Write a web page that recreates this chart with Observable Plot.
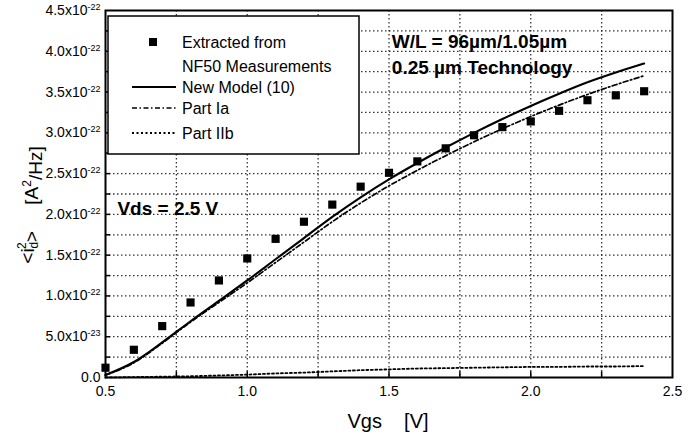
<!DOCTYPE html>
<html><head><meta charset="utf-8">
<script src="https://cdn.jsdelivr.net/npm/d3@7"></script>
<script src="https://cdn.jsdelivr.net/npm/@observablehq/plot@0.6"></script>
<style>body{margin:0;background:#fff} #chart svg{display:block}</style>
</head><body><div id="chart"></div>
<script>
// Vgs [V]
const vgs = [0.5,0.6,0.7,0.8,0.9,1.0,1.1,1.2,1.3,1.4,1.5,1.6,1.7,1.8,1.9,2.0,2.1,2.2,2.3,2.4];
// values in units of 1e-22 A^2/Hz
const extracted = [0.12,0.34,0.63,0.92,1.19,1.46,1.70,1.91,2.12,2.34,2.51,2.65,2.81,2.97,3.07,3.14,3.27,3.40,3.46,3.51];
const newModel  = [0.03,0.19,0.43,0.69,0.94,1.19,1.45,1.71,1.97,2.21,2.43,2.63,2.82,3.00,3.17,3.33,3.48,3.62,3.74,3.85];
const partIa    = [0.03,0.18,0.42,0.68,0.92,1.16,1.41,1.66,1.91,2.14,2.35,2.54,2.72,2.89,3.05,3.20,3.34,3.47,3.59,3.70];
const partIIb   = [0.0,0.005,0.01,0.015,0.025,0.035,0.05,0.06,0.075,0.09,0.10,0.11,0.115,0.12,0.125,0.13,0.13,0.135,0.135,0.14];

const xTicks = [0.5,1.0,1.5,2.0,2.5];
const xTickLabels = ["0.5","1.0","1.5","2.0","2.5"];
const yTicks = [0,0.5,1.0,1.5,2.0,2.5,3.0,3.5,4.0,4.5];
const yTickLabels = ["0.0","5.0x10^-23","1.0x10^-22","1.5x10^-22","2.0x10^-22","2.5x10^-22","3.0x10^-22","3.5x10^-22","4.0x10^-22","4.5x10^-22"];
const gridX = [0.75,1.0,1.25,1.5,1.75,2.0,2.25];
const gridY = [0.25,0.5,0.75,1.0,1.25,1.5,1.75,2.0,2.25,2.5,2.75,3.0,3.25,3.5,3.75,4.0,4.25];

const noteText = ["W/L = 96\u00b5m/1.05\u00b5m","0.25 \u00b5m Technology","Vds = 2.5 V"];
const noteX = [1.51,1.51,0.542];
const noteY = [4.11,3.79,2.07];

const legendLabels = [["Extracted from","NF50 Measurements"],["New Model (10)"],["Part Ia"],["Part IIb"]];

const FONT = '"Liberation Sans", Arial, Helvetica, sans-serif';
const DASH_IA = "5,2.5,1.5,2.5";
const DASH_IIB = "2,2.5";

const rows = vgs.map((v,i)=>({vgs:v, extracted:extracted[i], newModel:newModel[i], partIa:partIa[i], partIIb:partIIb[i]}));
const notes = noteText.map((t,i)=>({text:t, x:noteX[i], y:noteY[i]}));

const chart = Plot.plot({
  width:697, height:438,
  marginLeft:105, marginRight:25, marginTop:10, marginBottom:61,
  style:{fontFamily:FONT, fontSize:"14px", color:"#000", background:"#fff", overflow:"visible"},
  x:{domain:[0.5,2.5]},
  y:{domain:[0,4.5]},
  marks:[
    Plot.ruleX(gridX, {x:d=>d, stroke:"#000", strokeWidth:1.3, strokeDasharray:"1.5,2.5", strokeOpacity:0.8}),
    Plot.ruleY(gridY, {y:d=>d, stroke:"#000", strokeWidth:1.3, strokeDasharray:"1.5,2.5", strokeOpacity:0.8}),
    // inward ticks
    Plot.ruleY(gridY, {y:d=>d, x1:0.5, x2:0.518, stroke:"#000", strokeWidth:1.5}),
    Plot.ruleX(gridX, {x:d=>d, y1:0, y2:0.07, stroke:"#000", strokeWidth:1.5}),
    Plot.line(rows, {x:"vgs", y:"partIIb", stroke:"#000", strokeWidth:1.8, strokeDasharray:DASH_IIB}),
    Plot.line(rows, {x:"vgs", y:"partIa", stroke:"#000", strokeWidth:1.7, strokeDasharray:DASH_IA, curve:"monotone-x"}),
    Plot.line(rows, {x:"vgs", y:"newModel", stroke:"#000", strokeWidth:2.1, curve:"monotone-x"}),
    Plot.dot(rows, {x:"vgs", y:"extracted", symbol:"square", r:4.6, fill:"#000", stroke:null}),
    Plot.text(notes, {x:"x", y:"y", text:"text", textAnchor:"start", fontWeight:"bold", fontSize:19, fill:"#000"}),
    Plot.axisX({ticks:xTicks, tickSize:0, tickPadding:9, tickFormat:d=>xTickLabels[xTicks.indexOf(d)], label:null, fontSize:14}),
    Plot.axisY({ticks:yTicks, tickSize:0, tickPadding:5, tickFormat:d=>yTickLabels[yTicks.indexOf(d)], label:null, fontSize:14}),
    Plot.frame({stroke:"#000", strokeWidth:2})
  ]
});
document.getElementById("chart").appendChild(chart);

const svg = d3.select(chart);
// superscripts in tick labels
svg.selectAll("text").each(function(){
  const s = this.textContent;
  if (s.includes("^")) {
    const [base, exp] = s.split("^");
    const t = d3.select(this);
    t.text(null);
    t.append("tspan").text(base);
    t.append("tspan").attr("dy","-0.55em").attr("font-size","9px").text(exp);
  }
});

// legend
const lg = svg.append("g").attr("font-family", FONT).attr("font-size", 16).attr("fill", "#000").attr("text-anchor","start");
lg.append("rect").attr("x",108).attr("y",16).attr("width",251).attr("height",138)
  .attr("fill","#fff").attr("stroke","#000").attr("stroke-width",1.5);
lg.append("rect").attr("x",149).attr("y",38).attr("width",8).attr("height",8).attr("fill","#000");
const rowsY = [42,66,87,108,133];
lg.append("text").attr("x",182).attr("y",rowsY[0]).attr("dy","0.35em").text(legendLabels[0][0]);
lg.append("text").attr("x",182).attr("y",rowsY[1]).attr("dy","0.35em").text(legendLabels[0][1]);
const styles = [{w:2.1,d:null},{w:1.7,d:DASH_IA},{w:1.8,d:DASH_IIB}];
for (let k=0;k<3;k++){
  const y = rowsY[k+2];
  const ln = lg.append("line").attr("x1",132).attr("x2",176).attr("y1",y).attr("y2",y)
    .attr("stroke","#000").attr("stroke-width",styles[k].w);
  if (styles[k].d) ln.attr("stroke-dasharray", styles[k].d);
  lg.append("text").attr("x",182).attr("y",y).attr("dy","0.35em").text(legendLabels[k+1][0]);
}

// axis titles
const xt = svg.append("text").attr("x",388).attr("y",421).attr("dy","0.35em")
  .attr("text-anchor","middle").attr("font-family",FONT).attr("font-size",20).attr("fill","#000")
  .attr("xml:space","preserve");
xt.text("Vgs    [V]");

const yt = svg.append("text").attr("transform","translate(27,205) rotate(-90)")
  .attr("text-anchor","middle").attr("dy","0.35em").attr("font-family",FONT).attr("font-size",19).attr("fill","#000")
  .attr("xml:space","preserve");
yt.append("tspan").text("<i");
yt.append("tspan").attr("font-size",12).attr("dy","0.35em").text("d");
yt.append("tspan").attr("font-size",12).attr("dx","-0.6em").attr("dy","-1.0em").text("2");
yt.append("tspan").attr("dy","0.65em").text(">     [A");
yt.append("tspan").attr("font-size",12).attr("dy","-0.6em").text("2");
yt.append("tspan").attr("dy","0.6em").text("/Hz]");
</script>
</body></html>
